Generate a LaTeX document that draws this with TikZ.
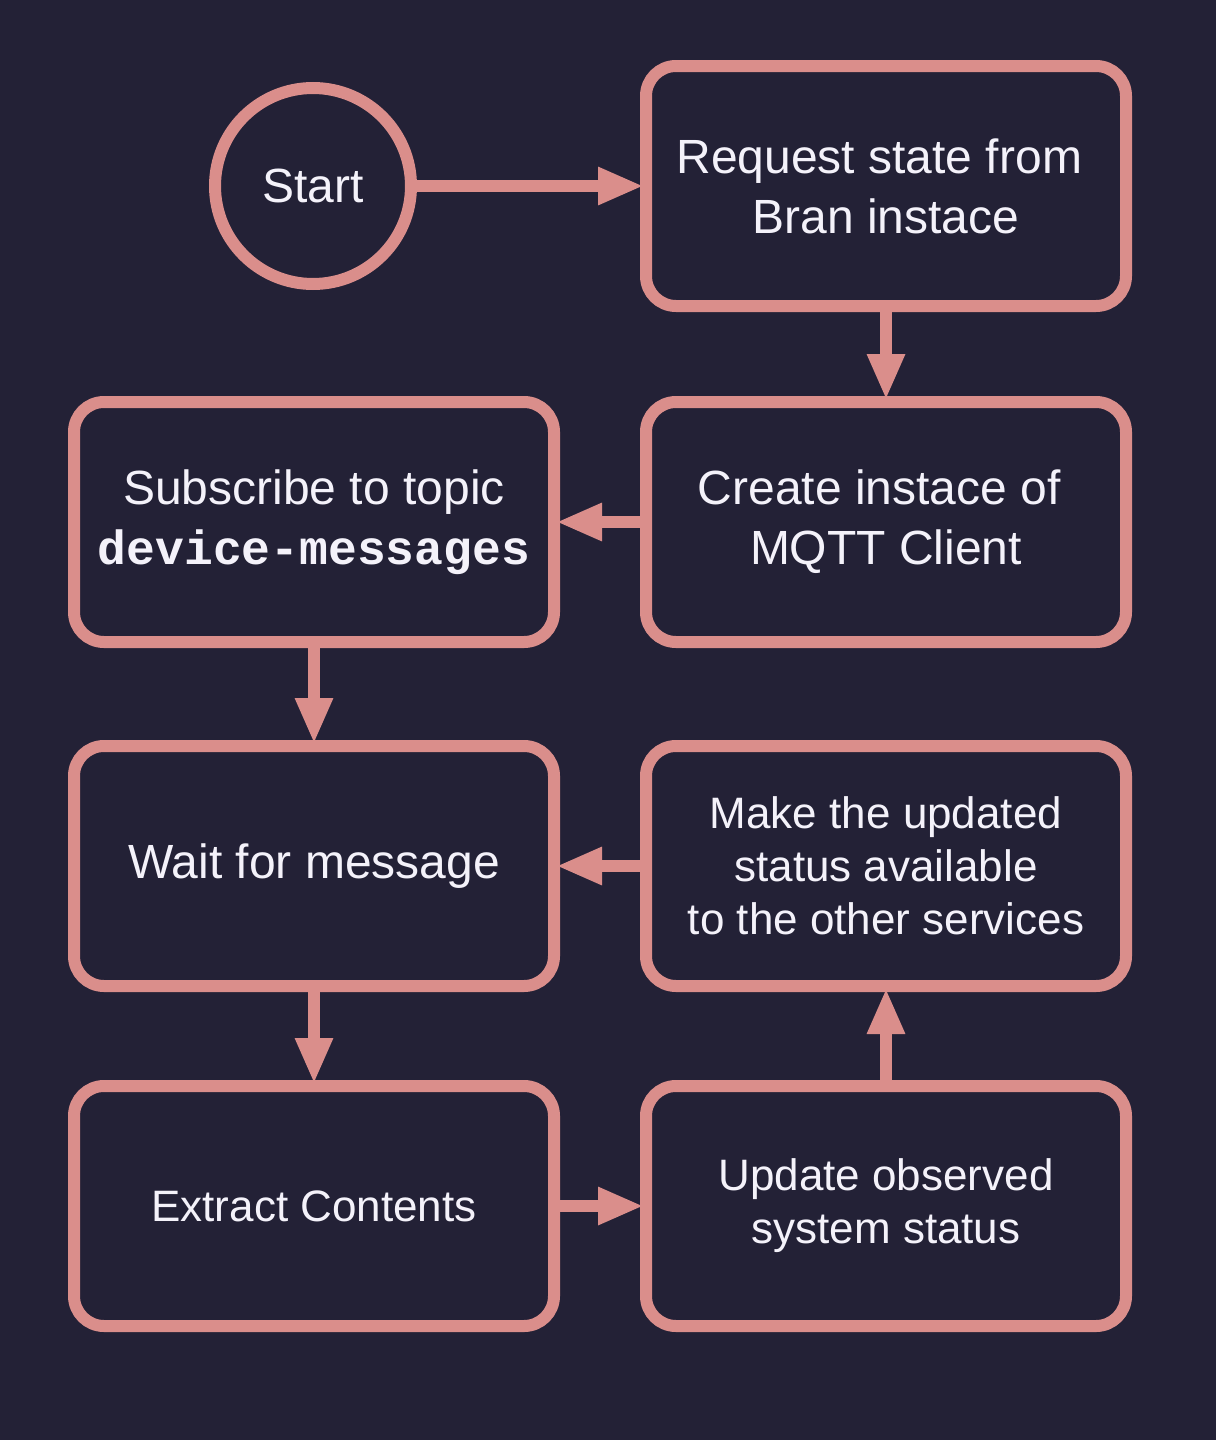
\documentclass[tikz,border=0pt]{standalone}
\usepackage{fontspec}
\setmainfont{Liberation Sans}
\setmonofont{Liberation Mono}
\usetikzlibrary{arrows.meta, positioning}
\definecolor{bgnavy}{HTML}{232136}
\definecolor{rosepink}{HTML}{DA8E8B}
\definecolor{textwhite}{HTML}{F4F2FA}
\tikzset{
    % Flow boxes
    stepbox/.style={rectangle, rounded corners=15pt, draw=rosepink, line width=6pt,
                fill=bgnavy, minimum width=240pt, minimum height=120pt, align=center,
                text=textwhite, font=\fontsize{24}{30}\selectfont},
    smallbox/.style={stepbox, font=\fontsize{22}{26.5}\selectfont},
    startnode/.style={circle, draw=rosepink, line width=6pt, fill=bgnavy,
                minimum size=98pt, text=textwhite, font=\fontsize{24}{30}\selectfont},
    % Connectors
    flowarrow/.style={-{Triangle[length=23pt, width=17.5pt]}, line width=6pt, rosepink,
                shorten >=-2pt},
}
\begin{document}
\begin{tikzpicture}[x=0.5pt, y=-0.5pt]
\fill[bgnavy] (0,0) rectangle (1216,1440);

\node[startnode] (start)   at (313,186)  {Start};
\node[stepbox]   (req)     at (886,186)  {Request state from\hspace*{0.28em}\\Bran instace};
\node[stepbox]   (create)  at (886,522)  {Create instace of\hspace*{0.28em}\\MQTT Client};
\node[stepbox]   (sub)     at (314,522)  {Subscribe to topic\\\texttt{\bfseries device-messages}};
\node[stepbox]   (wait)    at (314,866)  {Wait for message};
\node[smallbox]  (make)    at (886,866)  {Make the updated\\status available\\to the other services};
\node[smallbox]  (extract) at (314,1206) {Extract Contents};
\node[smallbox]  (update)  at (886,1206) {Update observed\\system status};

\draw[flowarrow] (start)  -- (req);
\draw[flowarrow] (req)    -- (create);
\draw[flowarrow] (create) -- (sub);
\draw[flowarrow] (sub)    -- (wait);
\draw[flowarrow] (make)   -- (wait);
\draw[flowarrow] (wait)   -- (extract);
\draw[flowarrow] (extract) -- (update);
\draw[flowarrow] (update) -- (make);
\end{tikzpicture}
\end{document}
